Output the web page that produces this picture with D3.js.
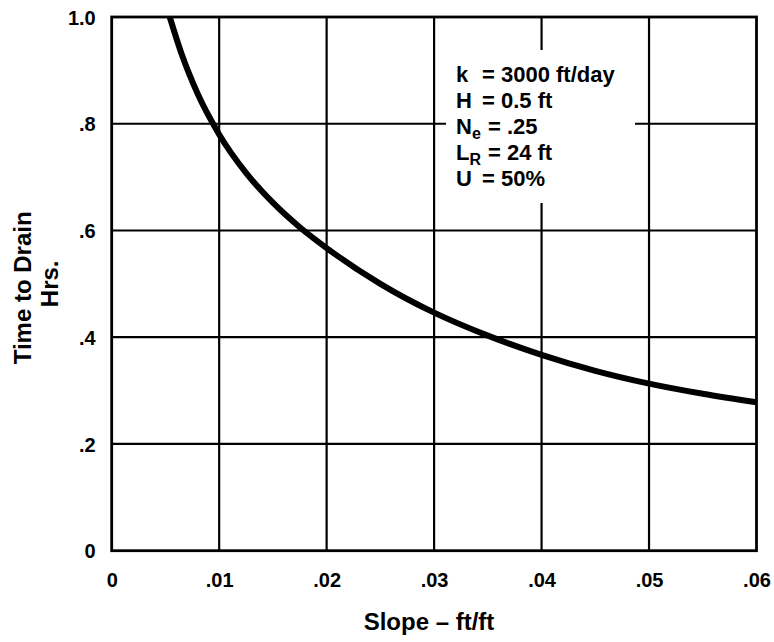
<!DOCTYPE html>
<html>
<head>
<meta charset="utf-8">
<script src="https://cdn.jsdelivr.net/npm/d3@7"></script>
<style>
  html, body { margin: 0; padding: 0; background: #fff; }
  svg { display: block; }
  text { font-family: "Liberation Sans", Arial, Helvetica, sans-serif; font-weight: bold; fill: #000; }
</style>
</head>
<body>
<svg id="chart" width="774" height="642"></svg>
<script>
// ---- data ----
const slopes = [0.0054, 0.0065, 0.008, 0.010, 0.0125, 0.015, 0.0175, 0.020, 0.025, 0.030, 0.035, 0.040, 0.045, 0.050, 0.055, 0.060];
const hours  = [1.000, 0.931, 0.856, 0.780, 0.708, 0.652, 0.606, 0.567, 0.500, 0.446, 0.403, 0.367, 0.337, 0.313, 0.294, 0.278];
const xTicks = [0, 0.01, 0.02, 0.03, 0.04, 0.05, 0.06];
const xTickLabels = ["0", ".01", ".02", ".03", ".04", ".05", ".06"];
const yTicks = [0, 0.2, 0.4, 0.6, 0.8, 1.0];
const yTickLabels = ["0", ".2", ".4", ".6", ".8", "1.0"];
const xTitle = "Slope \u2013 ft/ft";
const yTitle = ["Time to Drain", "Hrs."];
const notes = [
  {name: "k", sub: "", value: "= 3000 ft/day"},
  {name: "H", sub: "", value: "= 0.5 ft"},
  {name: "N", sub: "e", value: "= .25"},
  {name: "L", sub: "R", value: "= 24 ft"},
  {name: "U", sub: "", value: "= 50%"}
];

// ---- layout ----
const svg = d3.select("#chart");
const L = 111.7, R = 756.5, T = 17, B = 550.7;
const x = d3.scaleLinear().domain([0, 0.06]).range([L, R]);
const y = d3.scaleLinear().domain([0, 1.0]).range([B, T]);

// grid
const grid = svg.append("g").attr("stroke", "#000").attr("stroke-width", 2.2);
grid.selectAll("line.v").data(xTicks.slice(1, -1)).join("line")
  .attr("x1", d => x(d)).attr("x2", d => x(d)).attr("y1", T).attr("y2", B);
grid.selectAll("line.h").data(yTicks.slice(1, -1)).join("line")
  .attr("y1", d => y(d)).attr("y2", d => y(d)).attr("x1", L).attr("x2", R);

// annotation box (white patch over grid)
svg.append("rect").attr("x", 446).attr("y", 50).attr("width", 189).attr("height", 153).attr("fill", "#fff");

// frame
svg.append("rect").attr("x", L).attr("y", T).attr("width", R - L).attr("height", B - T)
  .attr("fill", "none").attr("stroke", "#000").attr("stroke-width", 2.8);

// axes labels via d3 axes (domain & ticks hidden)
const xAxis = d3.axisBottom(x).tickValues(xTicks).tickFormat((d, i) => xTickLabels[i]).tickSize(0).tickPadding(0);
const gx = svg.append("g").attr("transform", `translate(0,${B})`).call(xAxis);
gx.select(".domain").remove();
gx.selectAll("text").attr("y", 36).attr("dy", null).style("font-size", "20px")
  .style("font-family", '"Liberation Sans", Arial, sans-serif').style("font-weight", "bold").attr("fill", "#000");

const yAxis = d3.axisLeft(y).tickValues(yTicks).tickFormat((d, i) => yTickLabels[i]).tickSize(0).tickPadding(0);
const gy = svg.append("g").attr("transform", `translate(${L},0)`).call(yAxis);
gy.select(".domain").remove();
gy.selectAll("text").attr("x", -16).attr("dy", "0.36em").style("font-size", "20px")
  .style("font-family", '"Liberation Sans", Arial, sans-serif').style("font-weight", "bold").attr("fill", "#000");

// curve
const data = slopes.map((s, i) => [s, hours[i]]);
svg.append("path").datum(data)
  .attr("fill", "none").attr("stroke", "#000").attr("stroke-width", 6)
  .attr("stroke-linecap", "butt")
  .attr("d", d3.line().x(d => x(d[0])).y(d => y(d[1])).curve(d3.curveMonotoneX));

// titles
svg.append("text").attr("x", 429).attr("y", 630).attr("text-anchor", "middle")
  .style("font-size", "24px").text(xTitle);
svg.append("text").attr("transform", `translate(31,${(T + B) / 2 + 4}) rotate(-90)`).attr("text-anchor", "middle")
  .style("font-size", "24px").text(yTitle[0]);
svg.append("text").attr("transform", `translate(58,${(T + B) / 2}) rotate(-90)`).attr("text-anchor", "middle")
  .style("font-size", "24px").text(yTitle[1]);

// annotation text
const noteG = svg.append("g").style("font-size", "22px");
notes.forEach((n, i) => {
  const by = 82 + i * 26;
  const t = noteG.append("text").attr("x", 456).attr("y", by);
  t.append("tspan").text(n.name);
  if (n.sub) t.append("tspan").attr("dy", 5).style("font-size", "16px").text(n.sub);
  noteG.append("text").attr("x", n.sub ? 488 : 482).attr("y", by).text(n.value);
});
</script>
</body>
</html>
